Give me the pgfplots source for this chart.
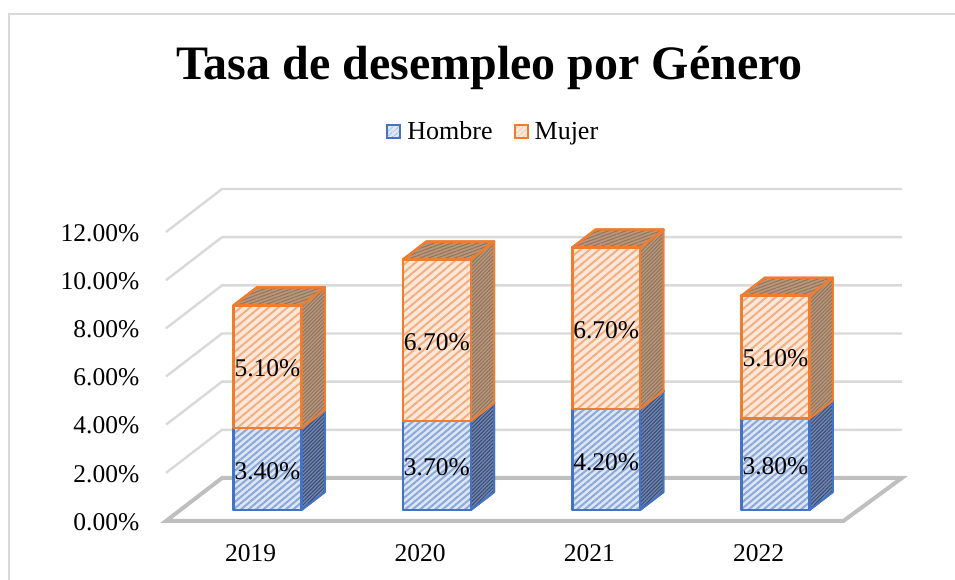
\documentclass[border=0pt]{standalone}
\usepackage{fontspec}
\setmainfont{Liberation Serif}
\usepackage{pgfplots}
\pgfplotsset{compat=1.18}
\usetikzlibrary{patterns.meta}
\definecolor{bl}{HTML}{4472C4}
\definecolor{orr}{HTML}{ED7D31}
\definecolor{gridc}{HTML}{D9D9D9}
\definecolor{floorc}{HTML}{BFBFBF}
\definecolor{blside}{HTML}{6C86B8}
\definecolor{blsideL}{HTML}{3E4A66}
\definecolor{orside}{HTML}{BD9676}
\definecolor{orsideL}{HTML}{8A7464}
\newcommand{\F}{\fontsize{25.5}{28}\selectfont}
% one bar segment: left x, right x, z from, z to, edge, front bg, side bg, side lines, hatch distance
\newcommand{\seg}[9]{%
  \addplot3[forget plot,draw=#5,line join=round,line width=2pt,fill=#7,postaction={pattern={Lines[angle=45,distance=2.6pt,line width=1pt]},pattern color=#8}]
    coordinates {(#2,0.256,#3) (#2,0.674,#3) (#2,0.674,#4) (#2,0.256,#4)} -- cycle;
  \addplot3[forget plot,draw=#5,line join=round,line width=2.4pt,fill=#7,postaction={pattern={Lines[angle=20,distance=3pt,line width=1pt]},pattern color=#8}]
    coordinates {(#1,0.256,#4) (#2,0.256,#4) (#2,0.674,#4) (#1,0.674,#4)} -- cycle;
  \addplot3[forget plot,draw=#5,line join=round,line width=2.4pt,fill=#6,postaction={pattern={Lines[angle=40,distance=#9pt,line width=2pt]},pattern color=#5!62!white}]
    coordinates {(#1,0.256,#3) (#2,0.256,#3) (#2,0.256,#4) (#1,0.256,#4)} -- cycle;
}
\newcommand{\grid}[1]{%
  \addplot3[forget plot,gridc,line width=2.4pt] coordinates {(-0.5,0,#1) (-0.5,1,#1) (3.515,1,#1)};
}
\begin{document}
\begin{tikzpicture}[x=1pt,y=1pt]
\path[use as bounding box] (0,0) rectangle (955,580);
\draw[gridc,line width=2.4pt] (9,0) -- (9,566) -- (955,566);
\begin{axis}[
  at={(250.67pt,59pt)},anchor=origin,
  x={(169.33pt,0pt)},y={(56pt,43pt)},z={(0pt,24.08pt)},
  xmin=-0.5,xmax=3.5,ymin=0,ymax=1,zmin=0,zmax=12,
  clip=false,
  axis line style={draw=none},
  major tick length=0pt,
  xtick={0,1,2,3},xticklabels={2019,2020,2021,2022},
  ytick=\empty,
  ztick={0,2,4,6,8,10,12},
  zticklabels={0.00\%,2.00\%,4.00\%,6.00\%,8.00\%,10.00\%,12.00\%},
  xticklabel style={font=\F,anchor=center,yshift=-32pt,inner sep=0pt},
  zticklabel style={font=\F,anchor=east,inner sep=0pt,xshift=-26.5pt,yshift=-1pt},
  title={\fontsize{48}{52}\selectfont\bfseries Tasa de desempleo por Género},
  title style={at={(axis cs:1.41,0,18.56)},anchor=center,inner sep=0pt},
  legend columns=2,
  legend style={at={(axis cs:1.433,0,16.08)},anchor=center,draw=none,fill=none,font=\fontsize{26}{28}\selectfont,
    nodes={text height=18pt,text depth=6pt},
    /tikz/every odd column/.append style={column sep=4pt},
    /tikz/every even column/.append style={column sep=19pt}},
]
\grid{2}\grid{4}\grid{6}\grid{8}\grid{10}\grid{12}
\addplot3[forget plot,floorc,line width=4pt] coordinates {(-0.5,0,0) (3.5,0,0) (3.515,1,0) (-0.5,1,0)} -- cycle;

\seg{-0.185}{0.215}{0}{3.4}{bl}{bl!18!white}{blside}{blsideL}{4.8}
\seg{-0.185}{0.215}{3.4}{8.5}{orr}{orr!18!white}{orside}{orsideL}{6}
\seg{0.815}{1.215}{0}{3.7}{bl}{bl!18!white}{blside}{blsideL}{4.8}
\seg{0.815}{1.215}{3.7}{10.4}{orr}{orr!18!white}{orside}{orsideL}{6}
\seg{1.815}{2.215}{0}{4.2}{bl}{bl!18!white}{blside}{blsideL}{4.8}
\seg{1.815}{2.215}{4.2}{10.9}{orr}{orr!18!white}{orside}{orsideL}{6}
\seg{2.815}{3.215}{0}{3.8}{bl}{bl!18!white}{blside}{blsideL}{4.8}
\seg{2.815}{3.215}{3.8}{8.9}{orr}{orr!18!white}{orside}{orsideL}{6}

\addplot3[forget plot,draw=none,mark=none,point meta=explicit symbolic,
  nodes near coords,nodes near coords style={anchor=center,font=\F,inner sep=0pt,text=black}]
  coordinates {
  (0.015,0.256,1.62)[3.40\%] (1.015,0.256,1.77)[3.70\%] (2.015,0.256,2.0)[4.20\%] (3.015,0.256,1.82)[3.80\%]
  (0.015,0.256,5.9)[5.10\%] (1.015,0.256,6.97)[6.70\%] (2.015,0.256,7.47)[6.70\%] (3.015,0.256,6.3)[5.10\%]
  };

\addlegendimage{legend image code/.code={\draw[bl,line width=2pt,fill=bl!18!white,postaction={pattern={Lines[angle=40,distance=4pt,line width=1pt]},pattern color=bl!62!white}] (0pt,-4pt) rectangle (13pt,9pt);}}
\addlegendentry{Hombre}
\addlegendimage{legend image code/.code={\draw[orr,line width=2pt,fill=orr!18!white,postaction={pattern={Lines[angle=40,distance=4pt,line width=1pt]},pattern color=orr!62!white}] (0pt,-4pt) rectangle (13pt,9pt);}}
\addlegendentry{Mujer}
\end{axis}
\end{tikzpicture}
\end{document}
